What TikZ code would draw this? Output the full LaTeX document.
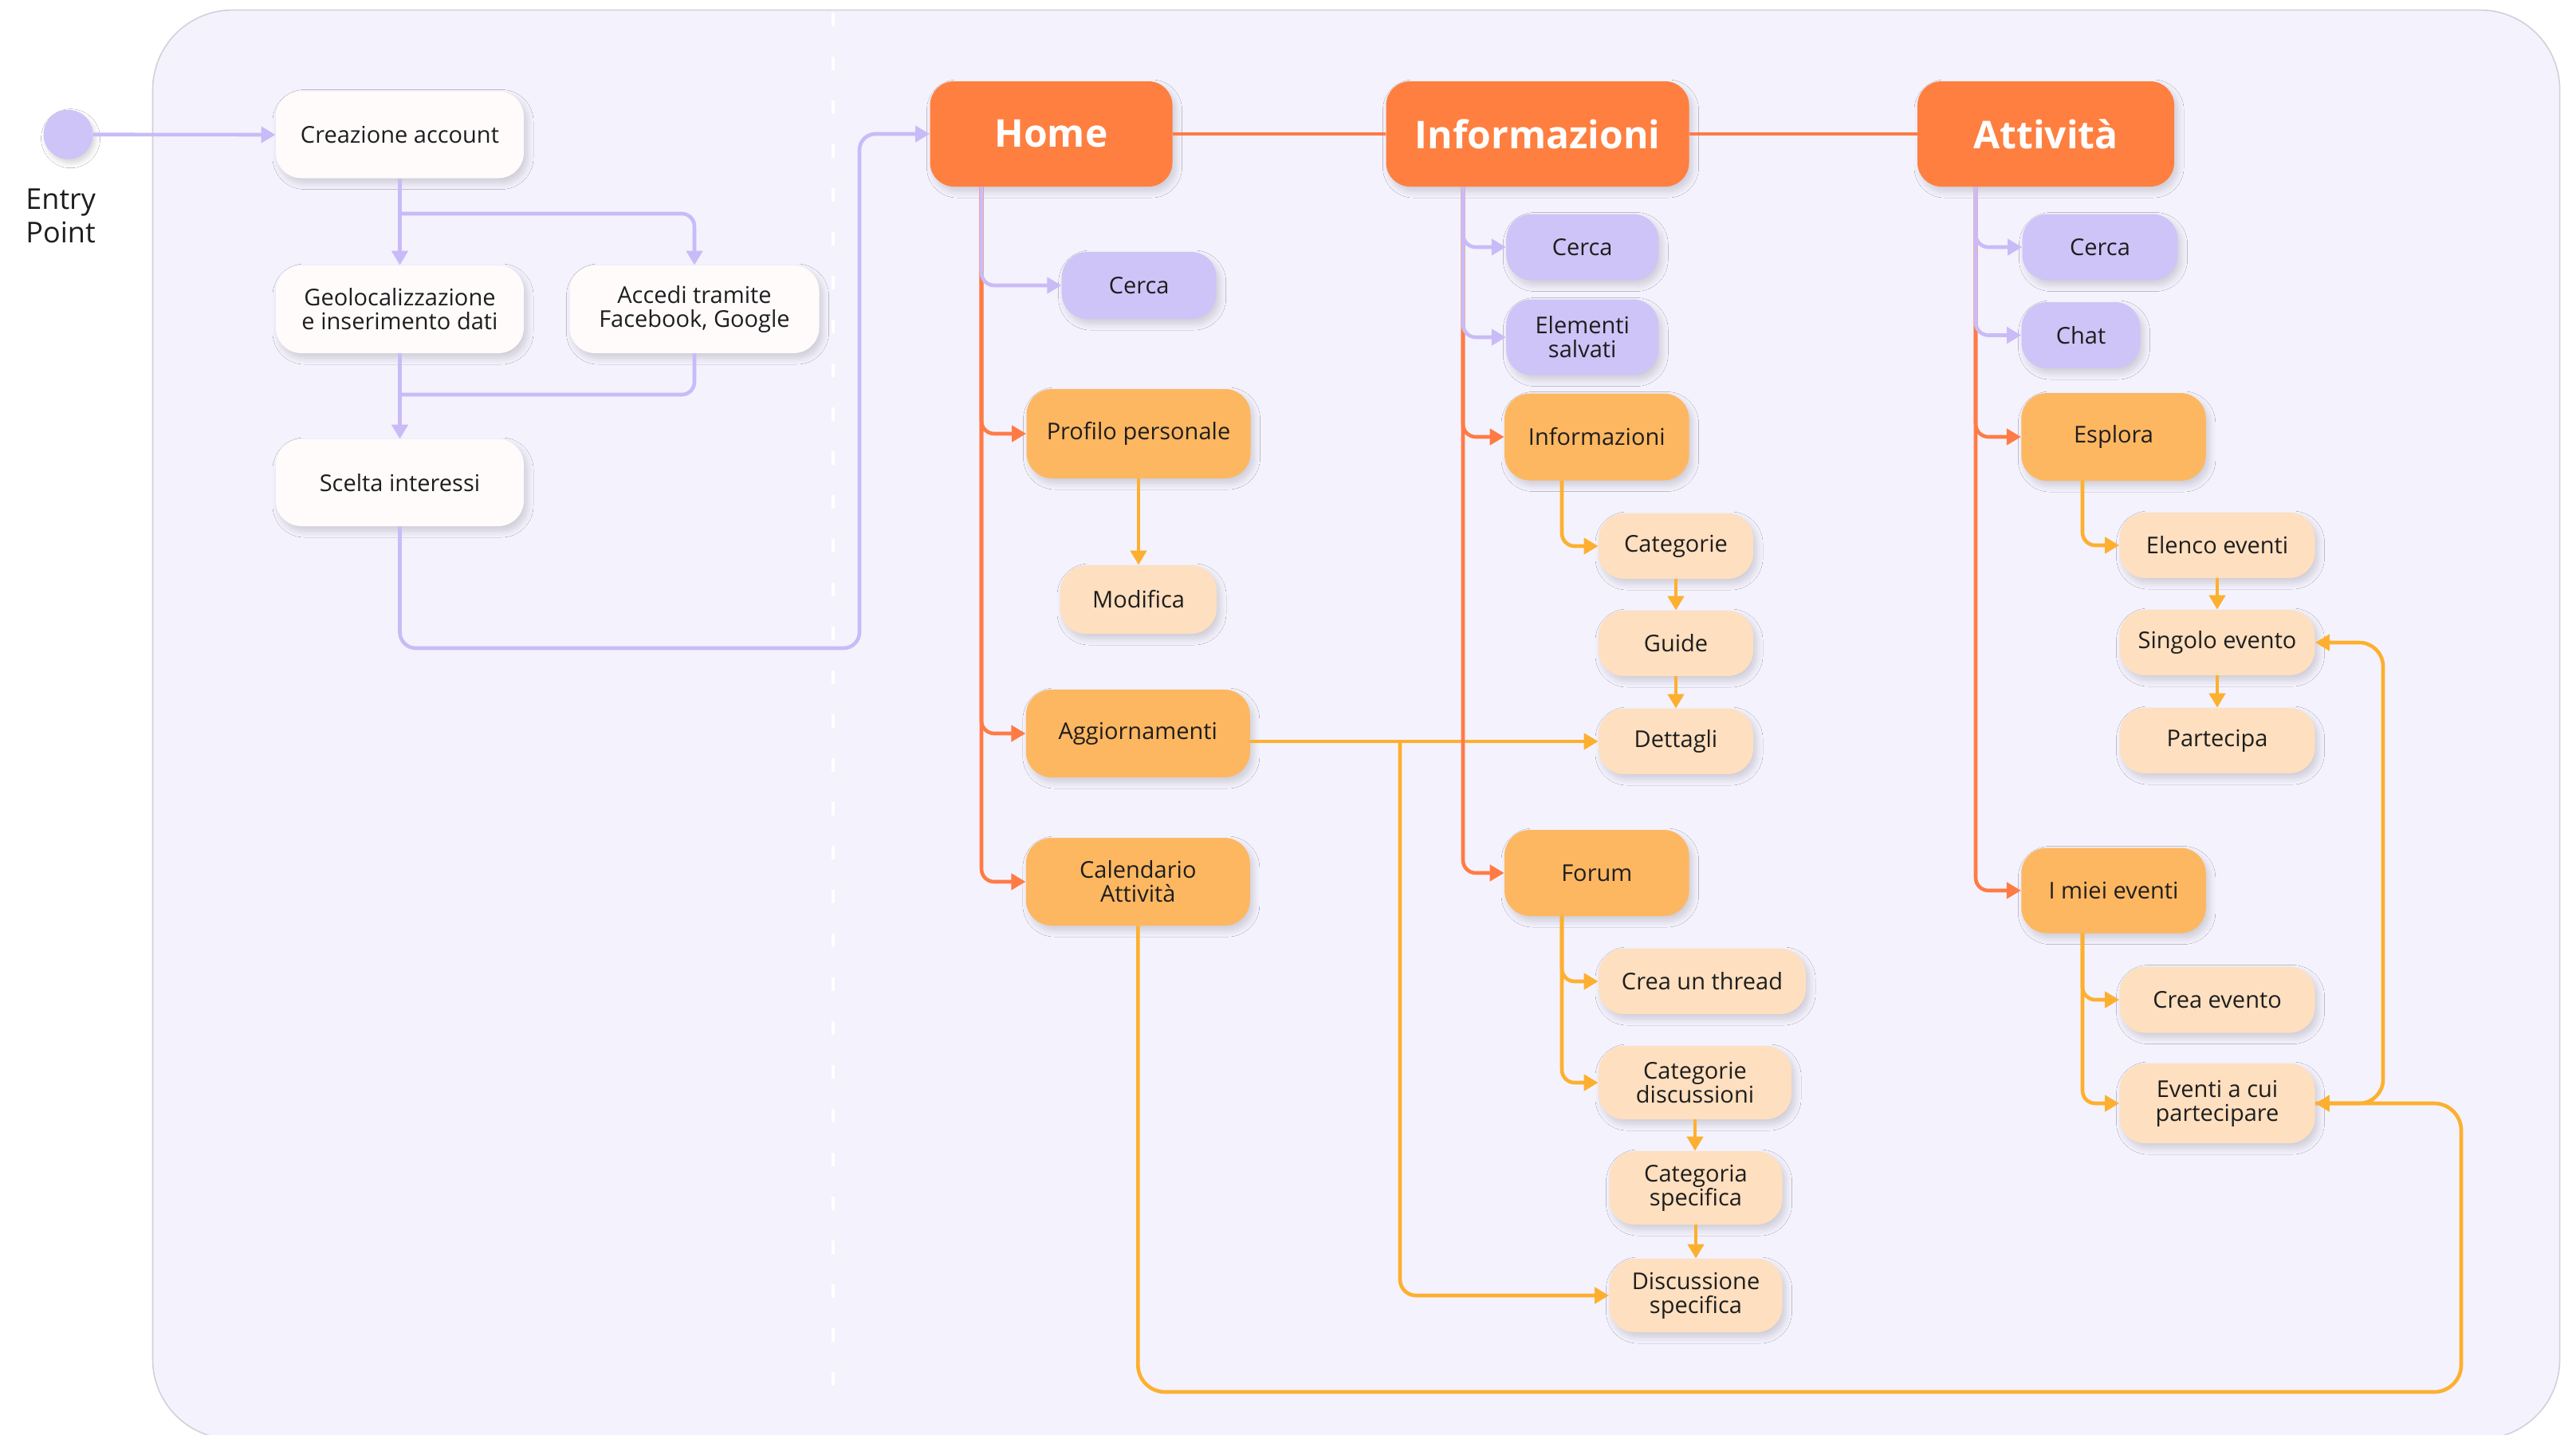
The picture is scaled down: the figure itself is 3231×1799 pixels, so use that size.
\documentclass[tikz,border=0pt]{standalone}
\usepackage{fontspec}
\setmainfont{Open Sans}
\usetikzlibrary{arrows.meta,shadows.blur}
\definecolor{panelbg}{HTML}{F4F2FD}
\definecolor{panelbd}{HTML}{D2D0DA}
\definecolor{lavnode}{HTML}{CEC4F7}
\definecolor{lavline}{HTML}{C9BBF7}
\definecolor{hdr}{HTML}{FE7F40}
\definecolor{oline}{HTML}{FF7B45}
\definecolor{midor}{HTML}{FDB761}
\definecolor{peach}{HTML}{FEDFBF}
\definecolor{yline}{HTML}{FDB02F}
\definecolor{wfill}{HTML}{FFFBFB}
\definecolor{txt}{HTML}{1E1E1E}
\tikzset{
  box/.style={rectangle, rounded corners=16pt, inner sep=0pt, align=center,
    font=\fontsize{14.5pt}{15pt}\selectfont, text=txt,
    blur shadow={shadow xshift=2pt, shadow yshift=-3pt, shadow blur radius=4pt, shadow blur steps=8, shadow opacity=16}},
  wbox/.style={box, fill=wfill},
  pbox/.style={box, fill=lavnode},
  mbox/.style={box, fill=midor},
  lbox/.style={box, fill=peach},
  hbox/.style={box, fill=hdr, rounded corners=15pt, text=white,
    font=\fontsize{24pt}{26pt}\selectfont\bfseries},
  tip/.style={-{Triangle[length=9pt,width=10pt]}},
  lav/.style={draw=lavline, line width=2.3pt, rounded corners=8pt},
  lava/.style={lav, tip},
  ora/.style={draw=oline, line width=2.3pt, rounded corners=8pt},
  oraa/.style={ora, tip},
  yel/.style={draw=yline, line width=2.3pt, rounded corners=8pt},
  yela/.style={yel, tip},
}
\begin{document}
\begin{tikzpicture}[x=0.5pt,y=-0.5pt]
\useasboundingbox (0,0) rectangle (3231,1799);
\fill[white] (0,0) rectangle (3231,1799);
% panel
\fill[panelbg, draw=panelbd, line width=0.8pt, rounded corners=50pt] (191.5,12.6) rectangle (3210.6,1805);
\draw[white, line width=2pt, dash pattern=on 8.5pt off 19pt] (1045,16) -- (1045,1750);

% entry point
\node[circle, fill=lavnode, minimum size=31pt, inner sep=0pt,
  blur shadow={shadow xshift=1.5pt, shadow yshift=-2.5pt, shadow blur radius=3pt, shadow opacity=16}] (entry) at (85.6,168.7) {};
\node[anchor=west, align=left, inner sep=0pt, text=txt, font=\fontsize{18pt}{21pt}\selectfont] (entrylbl) at (32,271) {Entry\\Point};

% onboarding column
\node[wbox, minimum width=155.5pt, minimum height=54.5pt] (creaz) at (501.5,169) {Creazione account};
\node[wbox, minimum width=155.5pt, minimum height=55pt] (geo) at (501.5,388) {Geolocalizzazione\\e inserimento dati};
\node[wbox, minimum width=156.5pt, minimum height=55pt] (accedi) at (871,388) {Accedi tramite\\Facebook, Google};
\node[wbox, minimum width=155.5pt, minimum height=54.5pt] (scelta) at (501.5,605.5) {Scelta interessi};

% headers
\node[hbox, minimum width=152pt, minimum height=66pt] (home) at (1318.5,168) {Home};
\node[hbox, minimum width=190pt, minimum height=66pt] (info) at (1928.5,168) {Informazioni};
\node[hbox, minimum width=161pt, minimum height=66pt] (attiv) at (2566,168) {Attività};

% home column
\node[pbox, minimum width=97pt, minimum height=42pt] (hcerca) at (1428.7,358) {Cerca};
\node[mbox, minimum width=140.5pt, minimum height=56pt] (profilo) at (1428,544) {Profilo personale};
\node[lbox, minimum width=98pt, minimum height=43pt] (modifica) at (1428,752) {Modifica};
\node[mbox, minimum width=140.5pt, minimum height=55pt] (aggiorn) at (1427.3,920) {Aggiornamenti};
\node[mbox, minimum width=140.5pt, minimum height=55pt] (calend) at (1427.3,1106) {Calendario\\Attività};

% informazioni column
\node[pbox, minimum width=95.5pt, minimum height=41.5pt] (icerca) at (1984.7,310) {Cerca};
\node[pbox, minimum width=95.5pt, minimum height=47.5pt] (elem) at (1984.7,423) {Elementi\\salvati};
\node[mbox, minimum width=115.75pt, minimum height=54.5pt] (isub) at (2002.8,548) {Informazioni};
\node[lbox, minimum width=97pt, minimum height=41pt] (categorie) at (2102,685) {Categorie};
\node[lbox, minimum width=97pt, minimum height=41pt] (guide) at (2102,807) {Guide};
\node[lbox, minimum width=97pt, minimum height=41pt] (dettagli) at (2102,930) {Dettagli};
\node[mbox, minimum width=115.75pt, minimum height=54pt] (forum) at (2002.8,1095) {Forum};
\node[lbox, minimum width=130pt, minimum height=41pt] (thread) at (2135,1231) {Crea un thread};
\node[lbox, minimum width=121pt, minimum height=46pt] (catdisc) at (2126,1358) {Categorie\\discussioni};
\node[lbox, minimum width=108.5pt, minimum height=46pt] (catspec) at (2127,1490) {Categoria\\specifica};
\node[lbox, minimum width=108.5pt, minimum height=46pt] (discspec) at (2127,1625) {Discussione\\specifica};

% attivita column
\node[pbox, minimum width=97.5pt, minimum height=41.5pt] (acerca) at (2634,310) {Cerca};
\node[pbox, minimum width=74.5pt, minimum height=41.5pt] (chat) at (2610,420.5) {Chat};
\node[mbox, minimum width=115.75pt, minimum height=55pt] (esplora) at (2651,548) {Esplora};
\node[lbox, minimum width=122.5pt, minimum height=41pt] (elenco) at (2781,684) {Elenco eventi};
\node[lbox, minimum width=122.5pt, minimum height=41pt] (singolo) at (2781,806) {Singolo evento};
\node[lbox, minimum width=122.5pt, minimum height=41pt] (partecipa) at (2781,929) {Partecipa};
\node[mbox, minimum width=115.75pt, minimum height=53.5pt] (imiei) at (2651,1117) {I miei eventi};
\node[lbox, minimum width=122.5pt, minimum height=41.5pt] (creaev) at (2781,1254) {Crea evento};
\node[lbox, minimum width=122.5pt, minimum height=50pt] (eventi) at (2781,1384) {Eventi a cui\\partecipare};

% helper coordinates
\coordinate (b1) at (501.5,268);
\coordinate (m1) at (501.5,495);
\coordinate (sl) at (1078,813);
\coordinate (hb) at (1231,234);
\coordinate (ib) at (1835,234);
\coordinate (ab) at (2478,234);
\coordinate (isb) at (1959,602.7);
\coordinate (fb) at (1959,1148.6);
\coordinate (eb) at (2612,602.7);
\coordinate (mb) at (2612,1170.6);
\coordinate (ag) at (1756,930);
\coordinate (cl) at (3087,1746);
\coordinate (el) at (2989,1100);

% onboarding connectors
\draw[lava] (entry) -- (creaz.west);
\draw[lava] (creaz.south) -- (geo.north);
\draw[lava] (b1) -| (accedi.north);
\draw[lava] (geo.south) -- (scelta.north);
\draw[lav] (accedi.south) |- (m1);
\draw[lava, rounded corners=10pt] (scelta.south) |- (sl) |- (home.west);

% header links
\draw[ora, rounded corners=0pt] (home.east) -- (info.west);
\draw[ora, rounded corners=0pt] (info.east) -- (attiv.west);

% cross links drawn below the trunks
\draw[yela] (aggiorn.east |- dettagli.west) -- (dettagli.west);
\draw[yela, rounded corners=10pt] (ag) |- (discspec.west);
\draw[yela, rounded corners=17pt] (calend.south) |- (cl) |- (eventi.east);
\draw[yela, rounded corners=15pt] (eventi.east) -| (el) |- (singolo.east);

% home branches
\draw[oraa] (hb) |- (profilo.west);
\draw[oraa] (hb) |- (aggiorn.west);
\draw[oraa] (hb) |- (calend.west);
\draw[lava] (hb) |- (hcerca.west);
\draw[yela] (profilo.south) -- (profilo.south |- modifica.north);

% informazioni branches
\draw[oraa] (ib) |- (isub.west);
\draw[oraa] (ib) |- (forum.west);
\draw[lava] (ib) |- (icerca.west);
\draw[lava] (ib) |- (elem.west);
\draw[yela] (isb) |- (categorie.west);
\draw[yela] (categorie.south) -- (categorie.south |- guide.north);
\draw[yela] (guide.south) -- (guide.south |- dettagli.north);
\draw[yela] (fb) |- (thread.west);
\draw[yela] (fb) |- (catdisc.west);
\draw[yela] (catdisc.south) -- (catdisc.south |- catspec.north);
\draw[yela] (catspec.south) -- (catspec.south |- discspec.north);

% attivita branches
\draw[oraa] (ab) |- (esplora.west);
\draw[oraa] (ab) |- (imiei.west);
\draw[lava] (ab) |- (acerca.west);
\draw[lava] (ab) |- (chat.west);
\draw[yela] (eb) |- (elenco.west);
\draw[yela] (elenco.south) -- (elenco.south |- singolo.north);
\draw[yela] (singolo.south) -- (singolo.south |- partecipa.north);
\draw[yela] (mb) |- (creaev.west);
\draw[yela] (mb) |- (eventi.west);
\end{tikzpicture}
\end{document}
